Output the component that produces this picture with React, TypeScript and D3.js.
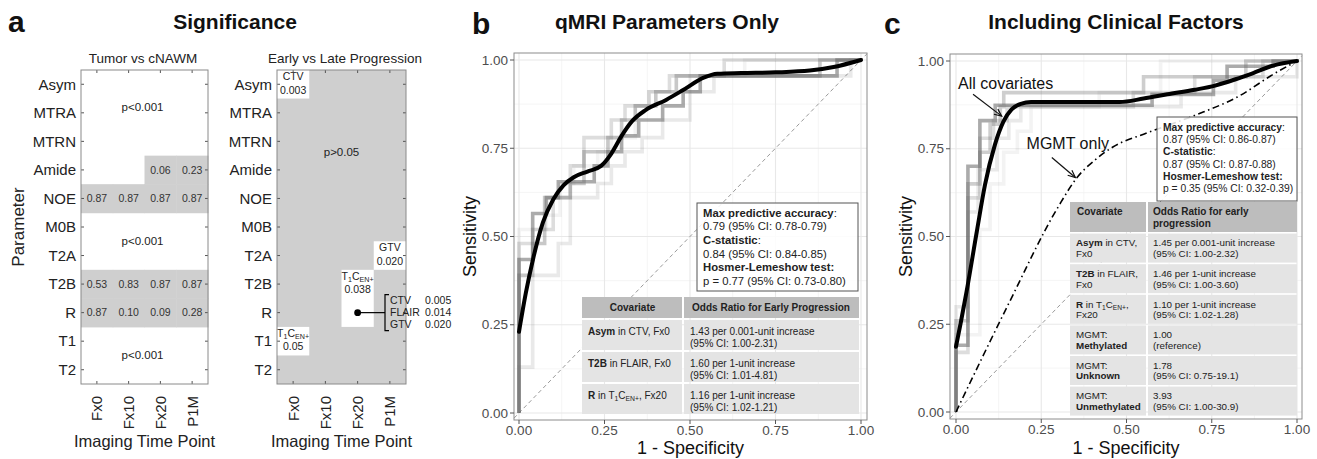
import React from "react";
import * as d3 from "d3";

const FONT = "'Liberation Sans', Arial, Helvetica, sans-serif";

// ---------------- Panel a data ----------------
const parameters = ["Asym", "MTRA", "MTRN", "Amide", "NOE", "M0B", "T2A", "T2B", "R", "T1", "T2"];
const timePoints = ["Fx0", "Fx10", "Fx20", "P1M"];
// Tumor vs cNAWM: p-values of non-significant cells (gray); null = p<0.001 (white)
const tumorVsNawmP: (string | null)[][] = [
  [null, null, null, null],
  [null, null, null, null],
  [null, null, null, null],
  [null, null, "0.06", "0.23"],
  ["0.87", "0.87", "0.87", "0.87"],
  [null, null, null, null],
  [null, null, null, null],
  ["0.53", "0.83", "0.87", "0.87"],
  ["0.87", "0.10", "0.09", "0.28"],
  [null, null, null, null],
  [null, null, null, null],
];
const tumorSigLabels = [
  { from: "Asym", to: "MTRN", text: "p<0.001" },
  { from: "M0B", to: "T2A", text: "p<0.001" },
  { from: "T1", to: "T2", text: "p<0.001" },
];
// Early vs Late progression: significant cells (white)
const earlyLateCells = [
  { param: "Asym", tp: "Fx0", span: 1, region: "CTV", p: "0.003" },
  { param: "T2A", tp: "P1M", span: 1, region: "GTV", p: "0.020" },
  { param: "T2B", tp: "Fx20", span: 2, region: "T1CEN+", p: "0.038" },
  { param: "T1", tp: "Fx0", span: 1, region: "T1CEN+", p: "0.05" },
];
const rFx20Regions = ["CTV", "FLAIR", "GTV"];
const rFx20P = ["0.005", "0.014", "0.020"];

// ---------------- ROC axes ----------------
const rocTicks = [0, 0.25, 0.5, 0.75, 1];
const rocTickLabels = ["0.00", "0.25", "0.50", "0.75", "1.00"];
const rocMinor = [0.125, 0.375, 0.625, 0.875];

type Pt = [number, number];

// ---------------- Panel b data ----------------
const bSmooth: Pt[] = [
  [0, 0.23], [0.02, 0.34], [0.042, 0.44], [0.07, 0.54], [0.1, 0.605], [0.13, 0.645], [0.16, 0.668],
  [0.2, 0.684], [0.24, 0.70], [0.27, 0.735], [0.3, 0.785], [0.33, 0.826], [0.37, 0.858], [0.43, 0.887],
  [0.48, 0.915], [0.54, 0.95], [0.58, 0.961], [0.65, 0.963], [0.75, 0.965], [0.85, 0.97], [0.92, 0.98], [1, 1],
];
const bStep1: Pt[] = [
  [0, 0], [0, 0.435], [0.04, 0.565], [0.08, 0.61], [0.115, 0.655], [0.22, 0.70], [0.26, 0.74], [0.3, 0.785],
  [0.35, 0.83], [0.42, 0.87], [0.48, 0.91], [0.53, 0.955], [0.93, 0.955], [0.93, 1], [1, 1],
];
const bStep2: Pt[] = [
  [0, 0], [0, 0.39], [0.04, 0.48], [0.075, 0.52], [0.075, 0.61], [0.15, 0.65], [0.19, 0.74], [0.26, 0.78],
  [0.3, 0.83], [0.34, 0.87], [0.4, 0.91], [0.46, 0.955], [0.88, 0.955], [0.88, 1], [1, 1],
];
const bStep3: Pt[] = [
  [0, 0], [0, 0.48], [0.04, 0.52], [0.1, 0.61], [0.15, 0.70], [0.19, 0.78], [0.27, 0.83], [0.31, 0.87],
  [0.38, 0.91], [0.44, 0.955], [0.6, 0.955], [0.6, 1], [1, 1],
];
const bStep4: Pt[] = [
  [0, 0], [0, 0.13], [0.04, 0.13], [0.04, 0.39], [0.115, 0.48], [0.15, 0.61], [0.23, 0.65], [0.27, 0.70],
  [0.31, 0.74], [0.36, 0.78], [0.42, 0.83], [0.5, 0.91], [0.57, 0.955], [0.97, 0.955], [0.97, 1], [1, 1],
];
const bStep5: Pt[] = [
  [0, 0], [0, 0.52], [0.08, 0.56], [0.12, 0.65], [0.16, 0.70], [0.23, 0.74], [0.27, 0.78], [0.34, 0.87],
  [0.38, 0.91], [0.5, 0.955], [0.66, 0.955], [0.66, 1], [1, 1],
];
const bStepOpacity = [0.55, 0.36, 0.22, 0.14, 0.08];

// ---------------- Panel c data ----------------
const cSmooth: Pt[] = [
  [0, 0.186], [0.015, 0.26], [0.031, 0.343], [0.061, 0.514], [0.085, 0.647], [0.114, 0.761], [0.139, 0.827],
  [0.163, 0.862], [0.19, 0.878], [0.22, 0.883], [0.35, 0.883], [0.48, 0.883], [0.55, 0.893], [0.62, 0.905],
  [0.7, 0.918], [0.76, 0.93], [0.82, 0.948], [0.87, 0.965], [0.93, 0.987], [1, 1],
];
const cMgmt: Pt[] = [
  [0, 0], [0.15, 0.3], [0.3, 0.585], [0.355, 0.668], [0.41, 0.72], [0.46, 0.755], [0.56, 0.795],
  [0.7, 0.845], [0.83, 0.9], [0.93, 0.962], [1, 1],
];
const cStep1: Pt[] = [
  [0, 0], [0, 0.19], [0.035, 0.7], [0.07, 0.83], [0.115, 0.874], [0.575, 0.905], [0.755, 0.945],
  [0.795, 0.985], [0.93, 1], [1, 1],
];
const cStep2: Pt[] = [
  [0, 0], [0, 0.26], [0.035, 0.26], [0.035, 0.65], [0.07, 0.74], [0.1, 0.82], [0.13, 0.87], [0.14, 0.91],
  [0.55, 0.955], [0.85, 0.955], [0.85, 1], [1, 1],
];
const cStep3: Pt[] = [
  [0, 0], [0, 0.17], [0.035, 0.17], [0.035, 0.61], [0.07, 0.78], [0.11, 0.83], [0.15, 0.87], [0.52, 0.91],
  [0.7, 0.955], [0.9, 0.97], [0.9, 1], [1, 1],
];
const cStep4: Pt[] = [
  [0, 0], [0, 0.3], [0.035, 0.3], [0.035, 0.57], [0.065, 0.69], [0.12, 0.78], [0.155, 0.83], [0.19, 0.87],
  [0.6, 0.87], [0.66, 0.91], [0.82, 0.955], [1, 0.955], [1, 1],
];
const cStep5: Pt[] = [
  [0, 0], [0, 0.22], [0.07, 0.52], [0.1, 0.65], [0.14, 0.74], [0.18, 0.8], [0.22, 0.87], [0.42, 0.91],
  [0.6, 0.96], [0.6, 1], [1, 1],
];
const cStepOpacity = [0.55, 0.32, 0.22, 0.14, 0.08];

type Seg = { t: string; b?: boolean; sub?: boolean };
const T1CEN: Seg[] = [{ t: "T" }, { t: "1", sub: true }, { t: "C" }, { t: "EN+", sub: true }];

const bStats: Seg[][] = [
  [{ t: "Max predictive accuracy", b: true }, { t: ":" }],
  [{ t: "0.79 (95% CI: 0.78-0.79)" }],
  [{ t: "C-statistic", b: true }, { t: ":" }],
  [{ t: "0.84 (95% CI: 0.84-0.85)" }],
  [{ t: "Hosmer-Lemeshow test:", b: true }],
  [{ t: "p = 0.77 (95% CI: 0.73-0.80)" }],
];
const cStats: Seg[][] = [
  [{ t: "Max predictive accuracy", b: true }, { t: ":" }],
  [{ t: "0.87 (95% CI: 0.86-0.87)" }],
  [{ t: "C-statistic", b: true }, { t: ":" }],
  [{ t: "0.87 (95% CI: 0.87-0.88)" }],
  [{ t: "Hosmer-Lemeshow test:", b: true }],
  [{ t: "p = 0.35 (95% CI: 0.32-0.39)" }],
];

const bTableHeader = ["Covariate", "Odds Ratio for Early Progression"];
const bCovariates: Seg[][] = [
  [{ t: "Asym", b: true }, { t: " in CTV, Fx0" }],
  [{ t: "T2B", b: true }, { t: " in FLAIR, Fx0" }],
  [{ t: "R", b: true }, { t: " in " }, ...T1CEN, { t: ", Fx20" }],
];
const bOdds = [
  ["1.43 per 0.001-unit increase", "(95% CI: 1.00-2.31)"],
  ["1.60 per 1-unit increase", "(95% CI: 1.01-4.81)"],
  ["1.16 per 1-unit increase", "(95% CI: 1.02-1.21)"],
];

const cTableHeader = [["Covariate"], ["Odds Ratio for early", "progression"]];
const cCovariates: Seg[][][] = [
  [[{ t: "Asym", b: true }, { t: " in CTV," }], [{ t: "Fx0" }]],
  [[{ t: "T2B", b: true }, { t: " in FLAIR," }], [{ t: "Fx0" }]],
  [[{ t: "R", b: true }, { t: " in " }, ...T1CEN, { t: "," }], [{ t: "Fx20" }]],
  [[{ t: "MGMT:" }], [{ t: "Methylated", b: true }]],
  [[{ t: "MGMT:" }], [{ t: "Unknown", b: true }]],
  [[{ t: "MGMT:" }], [{ t: "Unmethylated", b: true }]],
];
const cOdds = [
  ["1.45 per 0.001-unit increase", "(95% CI: 1.00-2.32)"],
  ["1.46 per 1-unit increase", "(95% CI: 1.00-3.60)"],
  ["1.10 per 1-unit increase", "(95% CI: 1.02-1.28)"],
  ["1.00", "(reference)"],
  ["1.78", "(95% CI: 0.75-19.1)"],
  ["3.93", "(95% CI: 1.00-30.9)"],
];

// ---------------- helpers ----------------
function rich(segs: Seg[], fs: number) {
  let shifted = false;
  const shift = fs * 0.22;
  return segs.map((s, i) => {
    let dy: number | undefined;
    if (s.sub && !shifted) { dy = shift; shifted = true; }
    else if (!s.sub && shifted) { dy = -shift; shifted = false; }
    return (
      <tspan key={i} dy={dy} fontWeight={s.b ? "bold" : undefined} fontSize={s.sub ? fs * 0.68 : undefined}>
        {s.t}
      </tspan>
    );
  });
}

function Arrow({ x1, y1, x2, y2 }: { x1: number; y1: number; x2: number; y2: number }) {
  const ang = Math.atan2(y2 - y1, x2 - x1);
  const L = 8, a = 0.42;
  const p1 = [x2 - L * Math.cos(ang - a), y2 - L * Math.sin(ang - a)];
  const p2 = [x2 - L * Math.cos(ang + a), y2 - L * Math.sin(ang + a)];
  return (
    <g stroke="#111" strokeWidth={1.2} fill="none">
      <line x1={x1} y1={y1} x2={x2} y2={y2} />
      <polyline points={`${p1[0]},${p1[1]} ${x2},${y2} ${p2[0]},${p2[1]}`} />
    </g>
  );
}

const GRAY = "#cfcfcf";
const FRAME = "#8a8a8a";

function HeatAxes({ x, y, box }: any) {
  const els: any[] = [];
  parameters.forEach((p) => {
    const yc = y(p)! + y.bandwidth() / 2;
    els.push(<line key={"tl" + p} x1={box.left} x2={box.left + 3} y1={yc} y2={yc} stroke="#555" />);
    els.push(<line key={"tr" + p} x1={box.right - 3} x2={box.right} y1={yc} y2={yc} stroke="#555" />);
    els.push(
      <text key={"yl" + p} x={box.left - 5} y={yc} dy="0.35em" textAnchor="end" fontSize={15} fill="#222">
        {p}
      </text>
    );
  });
  timePoints.forEach((t) => {
    const xc = x(t)! + x.bandwidth() / 2;
    els.push(<line key={"tt" + t} x1={xc} x2={xc} y1={box.top} y2={box.top + 3} stroke="#555" />);
    els.push(<line key={"tb" + t} x1={xc} x2={xc} y1={box.bottom - 3} y2={box.bottom} stroke="#555" />);
    els.push(
      <text key={"xl" + t} transform={`translate(${xc + 5.5},${box.bottom + 12}) rotate(-90)`} textAnchor="end" fontSize={15} fill="#222">
        {t}
      </text>
    );
  });
  els.push(
    <rect key="frame" x={box.left} y={box.top} width={box.right - box.left} height={box.bottom - box.top} fill="none" stroke={FRAME} strokeWidth={1} />
  );
  els.push(
    <text key="xt" x={(box.left + box.right) / 2} y={447} textAnchor="middle" fontSize={16.5} fill="#222">
      Imaging Time Point
    </text>
  );
  return <g>{els}</g>;
}

function PanelA() {
  const box1 = { left: 81, right: 208, top: 70, bottom: 384 };
  const box2 = { left: 277, right: 406, top: 70, bottom: 384 };
  const x1 = d3.scaleBand().domain(timePoints).range([box1.left, box1.right]);
  const y1 = d3.scaleBand().domain(parameters).range([box1.top, box1.bottom]);
  const x2 = d3.scaleBand().domain(timePoints).range([box2.left, box2.right]);
  const y2 = d3.scaleBand().domain(parameters).range([box2.top, box2.bottom]);
  const bw = x1.bandwidth(), bh = y1.bandwidth();

  const dotX = x2("Fx20")! + x2.bandwidth() / 2;
  const dotY = y2("R")! + bh / 2;
  const brX = 385;

  return (
    <g>
      <text x={8} y={32} fontSize={30} fontWeight="bold" fill="#111">a</text>
      <text x={235} y={29} fontSize={21} fontWeight="bold" textAnchor="middle" fill="#111">Significance</text>
      <text x={143} y={63} fontSize={13.5} textAnchor="middle" fill="#222">Tumor vs cNAWM</text>
      <text x={345} y={63} fontSize={13.5} textAnchor="middle" fill="#222">Early vs Late Progression</text>
      <text transform={`translate(24,${(box1.top + box1.bottom) / 2}) rotate(-90)`} textAnchor="middle" fontSize={17} fill="#222">
        Parameter
      </text>

      {/* a1 heatmap */}
      <rect x={box1.left} y={box1.top} width={box1.right - box1.left} height={box1.bottom - box1.top} fill="#fff" />
      {tumorVsNawmP.map((row, ri) =>
        row.map((v, ci) =>
          v === null ? null : (
            <g key={`c${ri}-${ci}`}>
              <rect x={x1(timePoints[ci])!} y={y1(parameters[ri])!} width={bw + 0.5} height={bh + 0.5} fill={GRAY} />
              <text x={x1(timePoints[ci])! + bw / 2} y={y1(parameters[ri])! + bh / 2} dy="0.35em" textAnchor="middle" fontSize={10.5} fill="#333">
                {v}
              </text>
            </g>
          )
        )
      )}
      {tumorSigLabels.map((l, i) => (
        <text key={"sl" + i} x={(box1.left + box1.right) / 2 - 2} y={(y1(l.from)! + y1(l.to)! + bh) / 2 - (i === 0 ? 6 : 0)} dy="0.35em" textAnchor="middle" fontSize={11.5} fill="#222">
          {l.text}
        </text>
      ))}
      <HeatAxes x={x1} y={y1} box={box1} />

      {/* a2 heatmap */}
      <rect x={box2.left} y={box2.top} width={box2.right - box2.left} height={box2.bottom - box2.top} fill={GRAY} />
      <text x={(box2.left + box2.right) / 2} y={152} dy="0.35em" textAnchor="middle" fontSize={11.5} fill="#222">p&gt;0.05</text>
      {earlyLateCells.map((c, i) => {
        const cx = x2(c.tp)!;
        const cy = y2(c.param)!;
        const region: Seg[] = c.region === "T1CEN+" ? T1CEN : [{ t: c.region }];
        return (
          <g key={"e" + i}>
            <rect x={cx} y={cy} width={x2.bandwidth()} height={bh * c.span} fill="#fff" />
            <text x={cx + x2.bandwidth() / 2} y={cy + 10} textAnchor="middle" fontSize={10.5} fill="#222">
              {rich(region, 10.5)}
            </text>
            <text x={cx + x2.bandwidth() / 2} y={cy + 23.5} textAnchor="middle" fontSize={10.5} fill="#222">
              {c.p}
            </text>
          </g>
        );
      })}
      <HeatAxes x={x2} y={y2} box={box2} />
      <circle cx={dotX} cy={dotY} r={3.4} fill="#000" />
      <line x1={dotX} x2={brX} y1={dotY} y2={dotY} stroke="#000" strokeWidth={1.2} />
      <polyline points={`${brX + 4},${dotY - 18} ${brX},${dotY - 18} ${brX},${dotY + 18} ${brX + 4},${dotY + 18}`} fill="none" stroke="#000" strokeWidth={1.2} />
      {rFx20Regions.map((r, i) => (
        <g key={"br" + i}>
          <text x={brX + 5} y={dotY + (i - 1) * 12} dy="0.35em" fontSize={10.5} fill="#222">{r}</text>
          <text x={brX + 40} y={dotY + (i - 1) * 12} dy="0.35em" fontSize={10.5} fill="#222">{rFx20P[i]}</text>
        </g>
      ))}
    </g>
  );
}

function RocPanel(props: {
  letter: string; letterX: number; title: string; titleX: number;
  panel: { left: number; right: number; top: number; bottom: number };
  xr: [number, number]; yr: [number, number];
  steps: Pt[][]; stepOpacity: number[]; smooth: Pt[];
  extra?: (x: any, y: any) => any;
  overlay?: (x: any, y: any) => any;
}) {
  const { panel } = props;
  const x = d3.scaleLinear().domain([0, 1]).range(props.xr);
  const y = d3.scaleLinear().domain([0, 1]).range(props.yr);
  const stepLine = d3.line<Pt>().x((d) => x(d[0])).y((d) => y(d[1])).curve(d3.curveStepAfter);
  const smoothLine = d3.line<Pt>().x((d) => x(d[0])).y((d) => y(d[1])).curve(d3.curveMonotoneX);
  const xmin = x.invert(panel.left), xmax = x.invert(panel.right);
  const cx = (panel.left + panel.right) / 2;
  const cy = (panel.top + panel.bottom) / 2;
  return (
    <g>
      <text x={props.letterX} y={34} fontSize={30} fontWeight="bold" fill="#111">{props.letter}</text>
      <text x={props.titleX} y={29} fontSize={21} fontWeight="bold" textAnchor="middle" fill="#111">{props.title}</text>
      <rect x={panel.left} y={panel.top} width={panel.right - panel.left} height={panel.bottom - panel.top} fill="#fff" />
      {rocMinor.map((v) => (
        <g key={"mn" + v}>
          <line x1={x(v)} x2={x(v)} y1={panel.top} y2={panel.bottom} stroke="#f3f3f3" strokeWidth={0.8} />
          <line x1={panel.left} x2={panel.right} y1={y(v)} y2={y(v)} stroke="#f3f3f3" strokeWidth={0.8} />
        </g>
      ))}
      {rocTicks.map((v) => (
        <g key={"mj" + v}>
          <line x1={x(v)} x2={x(v)} y1={panel.top} y2={panel.bottom} stroke="#e8e8e8" strokeWidth={1.1} />
          <line x1={panel.left} x2={panel.right} y1={y(v)} y2={y(v)} stroke="#e8e8e8" strokeWidth={1.1} />
        </g>
      ))}
      <line x1={x(xmin)} y1={y(xmin)} x2={x(xmax)} y2={y(xmax)} stroke="#9a9a9a" strokeWidth={1} strokeDasharray="4,3" />
      {props.steps.map((s, i) => (
        <path key={"st" + i} d={stepLine(s)!} fill="none" stroke="#666" strokeOpacity={props.stepOpacity[i]} strokeWidth={3.6} />
      ))}
      {props.extra && props.extra(x, y)}
      <path d={smoothLine(props.smooth)!} fill="none" stroke="#000" strokeWidth={4} strokeLinecap="round" />
      {props.overlay && props.overlay(x, y)}
      <rect x={panel.left} y={panel.top} width={panel.right - panel.left} height={panel.bottom - panel.top} fill="none" stroke="#8c8c8c" strokeWidth={1} />
      {rocTicks.map((v, i) => (
        <g key={"tk" + v}>
          <line x1={panel.left - 4} x2={panel.left} y1={y(v)} y2={y(v)} stroke="#555" />
          <text x={panel.left - 6} y={y(v)} dy="0.35em" textAnchor="end" fontSize={13.5} fill="#4d4d4d">{rocTickLabels[i]}</text>
          <line x1={x(v)} x2={x(v)} y1={panel.bottom} y2={panel.bottom + 4} stroke="#555" />
          <text x={x(v)} y={panel.bottom + 15} textAnchor="middle" fontSize={13.5} fill="#4d4d4d">{rocTickLabels[i]}</text>
        </g>
      ))}
      <text x={cx} y={454} textAnchor="middle" fontSize={18} fill="#111">1 - Specificity</text>
      <text transform={`translate(${panel.left - 38},${cy}) rotate(-90)`} textAnchor="middle" fontSize={18} fill="#111">Sensitivity</text>
    </g>
  );
}

function StatBox({ box, lines, fontSize, lineH, firstBase, textX }: any) {
  return (
    <g>
      <rect x={box.left} y={box.top} width={box.right - box.left} height={box.bottom - box.top} fill="#fff" fillOpacity={0.85} stroke="#555" strokeWidth={1} />
      {lines.map((l: Seg[], i: number) => (
        <text key={i} x={textX} y={firstBase + i * lineH} fontSize={fontSize} fill="#222">{rich(l, fontSize)}</text>
      ))}
    </g>
  );
}

export default function App() {
  const tb = { left: 582, mid: 683, right: 859, headTop: 297, headH: 21, rowH: 30, gap: 2 };
  const tc = { left: 1070, mid: 1147, right: 1297, headTop: 202, headH: 30, rowH: 29, gap: 1.6 };
  return (
    <svg width={1317} height={459} viewBox="0 0 1317 459" fontFamily={FONT} style={{ position: "absolute", left: 0, top: 0 }}>
      <rect width={1317} height={459} fill="#fff" />
      <PanelA />

      <RocPanel
        letter="b" letterX={472} title="qMRI Parameters Only" titleX={667}
        panel={{ left: 514, right: 867, top: 53, bottom: 420 }}
        xr={[519, 861]} yr={[413, 60]}
        steps={[bStep1, bStep2, bStep3, bStep4, bStep5]} stepOpacity={bStepOpacity}
        smooth={bSmooth}
        overlay={() => (
          <g>
            <StatBox box={{ left: 697, right: 858, top: 203, bottom: 291 }} lines={bStats} fontSize={11.3} lineH={13.7} firstBase={216.5} textX={703} />
            <rect x={tb.left} y={tb.headTop} width={tb.right - tb.left} height={tb.headH} fill="#bdbdbd" />
            <line x1={tb.mid} x2={tb.mid} y1={tb.headTop} y2={tb.headTop + tb.headH} stroke="#fff" strokeWidth={2} />
            <text x={(tb.left + tb.mid) / 2} y={tb.headTop + tb.headH / 2} dy="0.35em" textAnchor="middle" fontSize={10} fontWeight="bold" fill="#222">{bTableHeader[0]}</text>
            <text x={(tb.mid + tb.right) / 2} y={tb.headTop + tb.headH / 2} dy="0.35em" textAnchor="middle" fontSize={10} fontWeight="bold" fill="#222">{bTableHeader[1]}</text>
            {bCovariates.map((cov, i) => {
              const top = tb.headTop + tb.headH + tb.gap + i * (tb.rowH + tb.gap);
              return (
                <g key={"tbr" + i}>
                  <rect x={tb.left} y={top} width={tb.mid - tb.left - 1} height={tb.rowH} fill="#e4e4e4" />
                  <rect x={tb.mid + 1} y={top} width={tb.right - tb.mid - 1} height={tb.rowH} fill="#e4e4e4" />
                  <text x={tb.left + 6} y={top + 14.5} fontSize={10} fill="#222">{rich(cov, 10)}</text>
                  <text x={tb.mid + 7} y={top + 14.5} fontSize={10} fill="#222">{bOdds[i][0]}</text>
                  <text x={tb.mid + 7} y={top + 26.5} fontSize={10} fill="#222">{bOdds[i][1]}</text>
                </g>
              );
            })}
          </g>
        )}
      />

      <RocPanel
        letter="c" letterX={884} title="Including Clinical Factors" titleX={1116}
        panel={{ left: 950, right: 1302, top: 54, bottom: 419 }}
        xr={[956, 1297]} yr={[412, 61]}
        steps={[cStep1, cStep2, cStep3, cStep4, cStep5]} stepOpacity={cStepOpacity}
        smooth={cSmooth}
        extra={(x: any, y: any) => {
          const l = d3.line<Pt>().x((d) => x(d[0])).y((d) => y(d[1])).curve(d3.curveMonotoneX);
          return <path d={l(cMgmt)!} fill="none" stroke="#000" strokeWidth={1.6} strokeDasharray="7,3.5,1.5,3.5" />;
        }}
        overlay={(x: any, y: any) => (
          <g>
            <text x={x(0.006)} y={y(0.92)} fontSize={16} fill="#111">All covariates</text>
            <Arrow x1={x(0.05)} y1={y(0.905)} x2={x(0.134)} y2={y(0.843)} />
            <text x={x(0.207)} y={y(0.749)} fontSize={16} fill="#111">MGMT only</text>
            <Arrow x1={x(0.281)} y1={y(0.725)} x2={x(0.35)} y2={y(0.668)} />
            <StatBox box={{ left: 1157, right: 1297, top: 117, bottom: 201 }} lines={cStats} fontSize={10.3} lineH={12.2} firstBase={131} textX={1163} />
            <rect x={tc.left} y={tc.headTop} width={tc.right - tc.left} height={tc.headH} fill="#bdbdbd" />
            <line x1={tc.mid} x2={tc.mid} y1={tc.headTop} y2={tc.headTop + tc.headH} stroke="#fff" strokeWidth={2} />
            <text x={tc.left + 7} y={tc.headTop + 12.6} fontSize={10} fontWeight="bold" fill="#222">{cTableHeader[0][0]}</text>
            {cTableHeader[1].map((h, i) => (
              <text key={"ch" + i} x={tc.mid + 6} y={tc.headTop + 12.6 + i * 12} fontSize={10} fontWeight="bold" fill="#222">{h}</text>
            ))}
            {cCovariates.map((cov, i) => {
              const top = tc.headTop + tc.headH + tc.gap + i * (tc.rowH + tc.gap);
              return (
                <g key={"tcr" + i}>
                  <rect x={tc.left} y={top} width={tc.mid - tc.left - 1} height={tc.rowH} fill="#e4e4e4" />
                  <rect x={tc.mid + 1} y={top} width={tc.right - tc.mid - 1} height={tc.rowH} fill="#e4e4e4" />
                  {cov.map((line, j) => (
                    <text key={"cl" + j} x={tc.left + 6} y={top + 12.7 + j * 10.7} fontSize={9.8} fill="#222">{rich(line, 9.8)}</text>
                  ))}
                  {cOdds[i].map((line, j) => (
                    <text key={"co" + j} x={tc.mid + 6} y={top + 12.7 + j * 10.7} fontSize={9.8} fill="#222">{line}</text>
                  ))}
                </g>
              );
            })}
          </g>
        )}
      />
    </svg>
  );
}
